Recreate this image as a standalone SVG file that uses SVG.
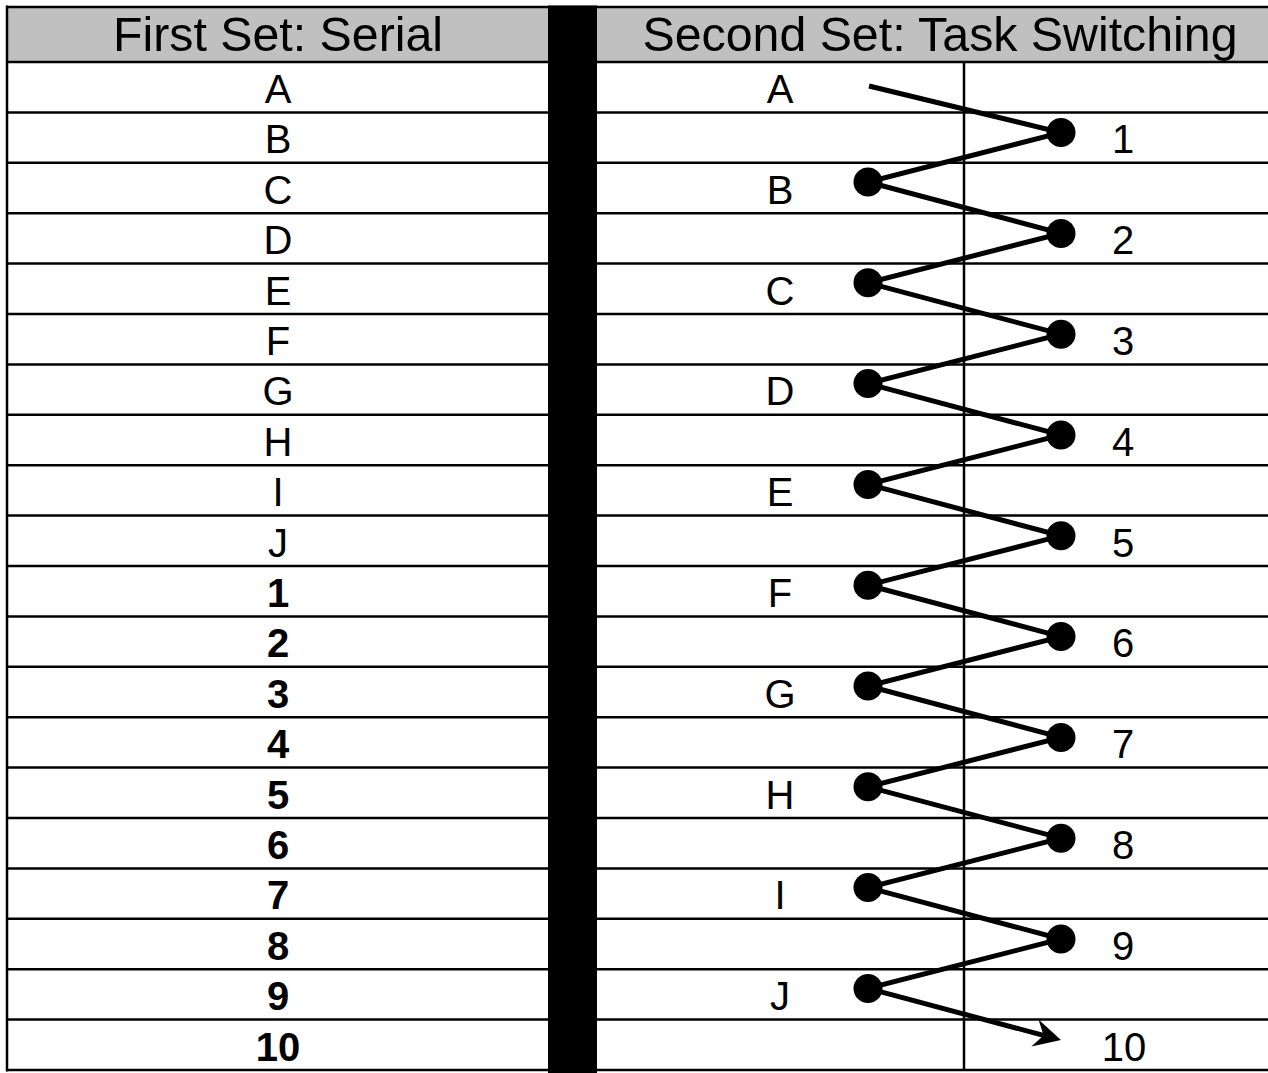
<svg xmlns="http://www.w3.org/2000/svg" width="1268" height="1073" viewBox="0 0 1268 1073">
<style>
.hd{font-family:"Liberation Sans",Arial,sans-serif;font-size:48.3px;text-anchor:middle;fill:#000}
.t{font-family:"Liberation Sans",Arial,sans-serif;font-size:40px;text-anchor:middle;fill:#000}
.b{font-weight:bold}
.rl{stroke:#000;stroke-width:2.5}
.zig{fill:none;stroke:#000;stroke-width:5;stroke-linejoin:miter}
.dot{fill:#000}
</style>
<defs>
<marker id="arr" viewBox="-12 -16 32 32" markerWidth="32" markerHeight="32" refX="0" refY="0" orient="auto" markerUnits="userSpaceOnUse">
<path d="M18,0 L-9,-14 L0,0 L-9,14 Z" fill="#000"/>
</marker>
</defs>
<rect x="0" y="0" width="1268" height="1073" fill="#fff"/>
<g id="headers">
<rect x="7" y="7" width="541" height="55" fill="#c0c0c0"/>
<rect x="597" y="7" width="671" height="55" fill="#c0c0c0"/>
<text class="hd" x="278" y="51">First Set: Serial</text>
<text class="hd" x="940" y="51">Second Set: Task Switching</text>
</g>
<g id="grid">
<line class="rl" x1="7" y1="7" x2="1268" y2="7" stroke-width="3"/>
<line class="rl" x1="7" y1="62" x2="1268" y2="62"/>
<line class="rl" x1="7" y1="112.4" x2="1268" y2="112.4"/>
<line class="rl" x1="7" y1="162.8" x2="1268" y2="162.8"/>
<line class="rl" x1="7" y1="213.2" x2="1268" y2="213.2"/>
<line class="rl" x1="7" y1="263.6" x2="1268" y2="263.6"/>
<line class="rl" x1="7" y1="314" x2="1268" y2="314"/>
<line class="rl" x1="7" y1="364.4" x2="1268" y2="364.4"/>
<line class="rl" x1="7" y1="414.8" x2="1268" y2="414.8"/>
<line class="rl" x1="7" y1="465.2" x2="1268" y2="465.2"/>
<line class="rl" x1="7" y1="515.6" x2="1268" y2="515.6"/>
<line class="rl" x1="7" y1="566" x2="1268" y2="566"/>
<line class="rl" x1="7" y1="616.4" x2="1268" y2="616.4"/>
<line class="rl" x1="7" y1="666.8" x2="1268" y2="666.8"/>
<line class="rl" x1="7" y1="717.2" x2="1268" y2="717.2"/>
<line class="rl" x1="7" y1="767.6" x2="1268" y2="767.6"/>
<line class="rl" x1="7" y1="818" x2="1268" y2="818"/>
<line class="rl" x1="7" y1="868.4" x2="1268" y2="868.4"/>
<line class="rl" x1="7" y1="918.8" x2="1268" y2="918.8"/>
<line class="rl" x1="7" y1="969.2" x2="1268" y2="969.2"/>
<line class="rl" x1="7" y1="1019.6" x2="1268" y2="1019.6"/>
<line class="rl" x1="7" y1="1070" x2="1268" y2="1070" stroke-width="3"/>
<line class="rl" x1="7" y1="5.5" x2="7" y2="1071.5" stroke-width="3"/>
<line class="rl" x1="964" y1="62" x2="964" y2="1070" stroke-width="2"/>
<rect x="548" y="5.5" width="49" height="1067.5" fill="#000"/>
</g>
<g id="serial">
<text class="t" x="278" y="103">A</text>
<text class="t" x="278" y="153.4">B</text>
<text class="t" x="278" y="203.8">C</text>
<text class="t" x="278" y="254.2">D</text>
<text class="t" x="278" y="304.6">E</text>
<text class="t" x="278" y="355">F</text>
<text class="t" x="278" y="405.4">G</text>
<text class="t" x="278" y="455.8">H</text>
<text class="t" x="278" y="506.2">I</text>
<text class="t" x="278" y="556.6">J</text>
<text class="t b" x="278" y="607">1</text>
<text class="t b" x="278" y="657.4">2</text>
<text class="t b" x="278" y="707.8">3</text>
<text class="t b" x="278" y="758.2">4</text>
<text class="t b" x="278" y="808.6">5</text>
<text class="t b" x="278" y="859">6</text>
<text class="t b" x="278" y="909.4">7</text>
<text class="t b" x="278" y="959.8">8</text>
<text class="t b" x="278" y="1010.2">9</text>
<text class="t b" x="278" y="1060.6">10</text>
</g>
<g id="switching-letters">
<text class="t" x="780" y="103">A</text>
<text class="t" x="780" y="203.8">B</text>
<text class="t" x="780" y="304.6">C</text>
<text class="t" x="780" y="405.4">D</text>
<text class="t" x="780" y="506.2">E</text>
<text class="t" x="780" y="607">F</text>
<text class="t" x="780" y="707.8">G</text>
<text class="t" x="780" y="808.6">H</text>
<text class="t" x="780" y="909.4">I</text>
<text class="t" x="780" y="1010.2">J</text>
</g>
<g id="switching-numbers">
<text class="t" x="1123" y="153.4">1</text>
<text class="t" x="1123" y="254.2">2</text>
<text class="t" x="1123" y="355">3</text>
<text class="t" x="1123" y="455.8">4</text>
<text class="t" x="1123" y="556.6">5</text>
<text class="t" x="1123" y="657.4">6</text>
<text class="t" x="1123" y="758.2">7</text>
<text class="t" x="1123" y="859">8</text>
<text class="t" x="1123" y="959.8">9</text>
<text class="t" x="1124" y="1060.6">10</text>
</g>
<g id="connectors">
<polyline class="zig" marker-end="url(#arr)" points="869,86 1061,132.6 868,182 1061,233.4 868,282.8 1061,334.2 868,383.6 1061,435 868,484.4 1061,535.8 868,585.2 1061,636.6 868,686 1061,737.4 868,786.8 1061,838.2 868,887.6 1061,939 868,988.4 1043.6,1035.4"/>
</g>
<g id="dots">
<circle class="dot" cx="1061" cy="132.6" r="14.5"/>
<circle class="dot" cx="868" cy="182" r="14.5"/>
<circle class="dot" cx="1061" cy="233.4" r="14.5"/>
<circle class="dot" cx="868" cy="282.8" r="14.5"/>
<circle class="dot" cx="1061" cy="334.2" r="14.5"/>
<circle class="dot" cx="868" cy="383.6" r="14.5"/>
<circle class="dot" cx="1061" cy="435" r="14.5"/>
<circle class="dot" cx="868" cy="484.4" r="14.5"/>
<circle class="dot" cx="1061" cy="535.8" r="14.5"/>
<circle class="dot" cx="868" cy="585.2" r="14.5"/>
<circle class="dot" cx="1061" cy="636.6" r="14.5"/>
<circle class="dot" cx="868" cy="686" r="14.5"/>
<circle class="dot" cx="1061" cy="737.4" r="14.5"/>
<circle class="dot" cx="868" cy="786.8" r="14.5"/>
<circle class="dot" cx="1061" cy="838.2" r="14.5"/>
<circle class="dot" cx="868" cy="887.6" r="14.5"/>
<circle class="dot" cx="1061" cy="939" r="14.5"/>
<circle class="dot" cx="868" cy="988.4" r="14.5"/>
</g>
</svg>
